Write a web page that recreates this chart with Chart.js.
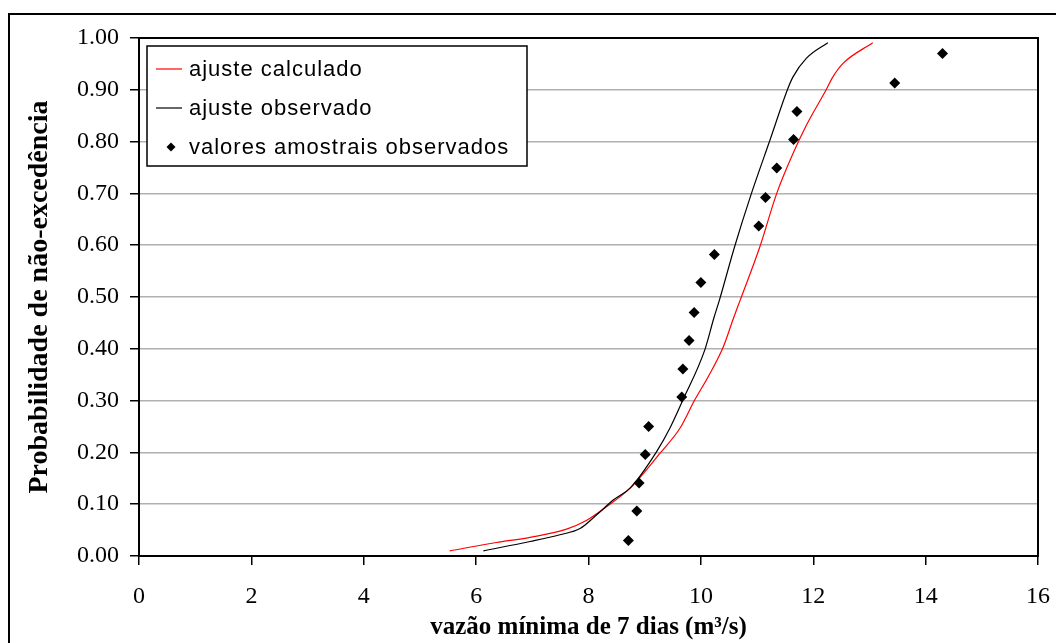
<!DOCTYPE html>
<html>
<head>
<meta charset="utf-8">
<script src="https://cdn.jsdelivr.net/npm/chart.js@4.4.1/dist/chart.umd.min.js"></script>
<style>
  html, body { margin: 0; padding: 0; background: #fff; overflow: hidden; }
  #frame { position: absolute; left: 8px; top: 13px; width: 1200px; height: 800px; border: 2px solid #000; }
  #wrap { position: absolute; left: 0; top: 0; width: 1056px; height: 643px; }
</style>
</head>
<body>
<div id="frame"></div>
<div id="wrap"><canvas id="chart" width="1056" height="643"></canvas></div>
<script>
/* curva de permanência — vazão mínima de 7 dias */

const seriesLabels = ['ajuste calculado', 'ajuste observado', 'valores amostrais observados'];

// ajuste calculado (vermelho)
const calcX = [5.53, 6.36, 6.96, 7.61, 7.97, 8.32, 8.74, 9.27, 9.63, 9.89, 10.13, 10.40, 10.58, 10.70, 11.05, 11.35, 11.64, 11.88, 12.23, 12.35, 12.53, 13.06];
const calcP = [0.010, 0.026, 0.036, 0.052, 0.069, 0.095, 0.131, 0.198, 0.247, 0.301, 0.346, 0.404, 0.459, 0.494, 0.597, 0.700, 0.777, 0.832, 0.900, 0.925, 0.951, 0.991];

// ajuste observado (preto)
const obsX = [6.13, 6.96, 7.49, 7.85, 8.14, 8.44, 8.74, 9.21, 9.45, 9.68, 10.07, 10.23, 10.33, 10.60, 10.90, 11.23, 11.55, 11.64, 11.88, 12.26];
const obsP = [0.010, 0.028, 0.041, 0.053, 0.079, 0.108, 0.131, 0.201, 0.247, 0.301, 0.398, 0.459, 0.494, 0.597, 0.700, 0.803, 0.903, 0.925, 0.961, 0.991];

// valores amostrais
const sampleX = [8.71, 8.86, 8.90, 9.01, 9.07, 9.66, 9.68, 9.79, 9.88, 10.00, 10.24, 11.03, 11.15, 11.35, 11.65, 11.71, 13.45, 14.30];
const sampleP = [0.030, 0.087, 0.141, 0.196, 0.250, 0.307, 0.361, 0.416, 0.470, 0.528, 0.582, 0.637, 0.692, 0.749, 0.804, 0.858, 0.913, 0.970];

const xTitle = 'vazão mínima de 7 dias (m³/s)';
const yTitle = 'Probabilidade de não-excedência';

const pts = (xs, ys) => xs.map((x, i) => ({ x, y: ys[i] }));

const serif = "'Liberation Serif', 'Times New Roman', serif";
const sans = "'Liberation Sans', Arial, sans-serif";

// moldura da área do gráfico + legenda interna
const framePlugin = {
  id: 'framePlugin',
  afterDraw(chart) {
    const { ctx, chartArea: a } = chart;
    ctx.save();
    ctx.strokeStyle = '#000';
    ctx.lineWidth = 2;
    ctx.strokeRect(a.left, a.top, a.right - a.left, a.bottom - a.top);

    // legenda
    const bx = 147, by = 46, bw = 380, bh = 120;
    ctx.fillStyle = '#fff';
    ctx.fillRect(bx, by, bw, bh);
    ctx.lineWidth = 1.5;
    ctx.strokeStyle = '#000';
    ctx.strokeRect(bx, by, bw, bh);

    ctx.font = '22px ' + sans;
    if ('letterSpacing' in ctx) ctx.letterSpacing = '1px';
    ctx.textBaseline = 'middle';
    ctx.textAlign = 'left';
    const rows = [69, 108, 147];
    chart.data.datasets.forEach((ds, i) => {
      const y = rows[i];
      if (ds.showLine) {
        ctx.strokeStyle = ds.borderColor;
        ctx.lineWidth = 1.2;
        ctx.beginPath();
        ctx.moveTo(156, y);
        ctx.lineTo(182, y);
        ctx.stroke();
      } else {
        ctx.fillStyle = '#000';
        ctx.beginPath();
        ctx.moveTo(171, y - 4.5);
        ctx.lineTo(175.5, y);
        ctx.lineTo(171, y + 4.5);
        ctx.lineTo(166.5, y);
        ctx.closePath();
        ctx.fill();
      }
      ctx.fillStyle = '#000';
      ctx.fillText(ds.label, 189, y + 1);
    });
    ctx.restore();
  }
};

new Chart(document.getElementById('chart'), {
  type: 'scatter',
  data: {
    datasets: [
      {
        label: seriesLabels[0],
        data: pts(calcX, calcP),
        showLine: true,
        borderColor: '#ff0000',
        borderWidth: 1.2,
        pointRadius: 0,
        cubicInterpolationMode: 'monotone',
        order: 2
      },
      {
        label: seriesLabels[1],
        data: pts(obsX, obsP),
        showLine: true,
        borderColor: '#000000',
        borderWidth: 1.2,
        pointRadius: 0,
        cubicInterpolationMode: 'monotone',
        order: 1
      },
      {
        label: seriesLabels[2],
        data: pts(sampleX, sampleP),
        showLine: false,
        pointStyle: 'rectRot',
        pointRadius: 5.5,
        backgroundColor: '#000',
        borderColor: '#000',
        borderWidth: 0,
        order: 0
      }
    ]
  },
  options: {
    responsive: false,
    animation: false,
    layout: { padding: { left: 0, top: 38, right: 18, bottom: 0 } },
    plugins: {
      legend: { display: false },
      tooltip: { enabled: false }
    },
    scales: {
      x: {
        type: 'linear',
        min: 0, max: 16,
        afterFit: s => { s.height = 87; s.paddingLeft = 0; s.paddingRight = 0; },
        ticks: {
          stepSize: 2,
          color: '#000',
          padding: 17,
          font: { family: serif, size: 24 },
          maxRotation: 0
        },
        grid: { drawOnChartArea: false, tickLength: 9, tickColor: '#000', lineWidth: 1.5 },
        border: { color: '#000', width: 2 },
        title: {
          display: true,
          text: xTitle,
          color: '#000',
          font: { family: serif, size: 25, weight: 'bold' },
          padding: { top: 0, bottom: 0 }
        }
      },
      y: {
        type: 'linear',
        min: 0, max: 1,
        afterFit: s => { s.width = 139; },
        ticks: {
          stepSize: 0.1,
          color: '#000',
          padding: 11,
          font: { family: serif, size: 24 },
          callback: v => v.toFixed(2)
        },
        grid: { color: '#b0b0b0', tickColor: '#000', tickLength: 9, lineWidth: 1.5 },
        border: { color: '#000', width: 2 },
        title: {
          display: true,
          text: yTitle,
          color: '#000',
          font: { family: serif, size: 28, weight: 'bold' },
          padding: { top: 23, bottom: 0 }
        }
      }
    }
  },
  plugins: [framePlugin]
});
</script>
</body>
</html>
